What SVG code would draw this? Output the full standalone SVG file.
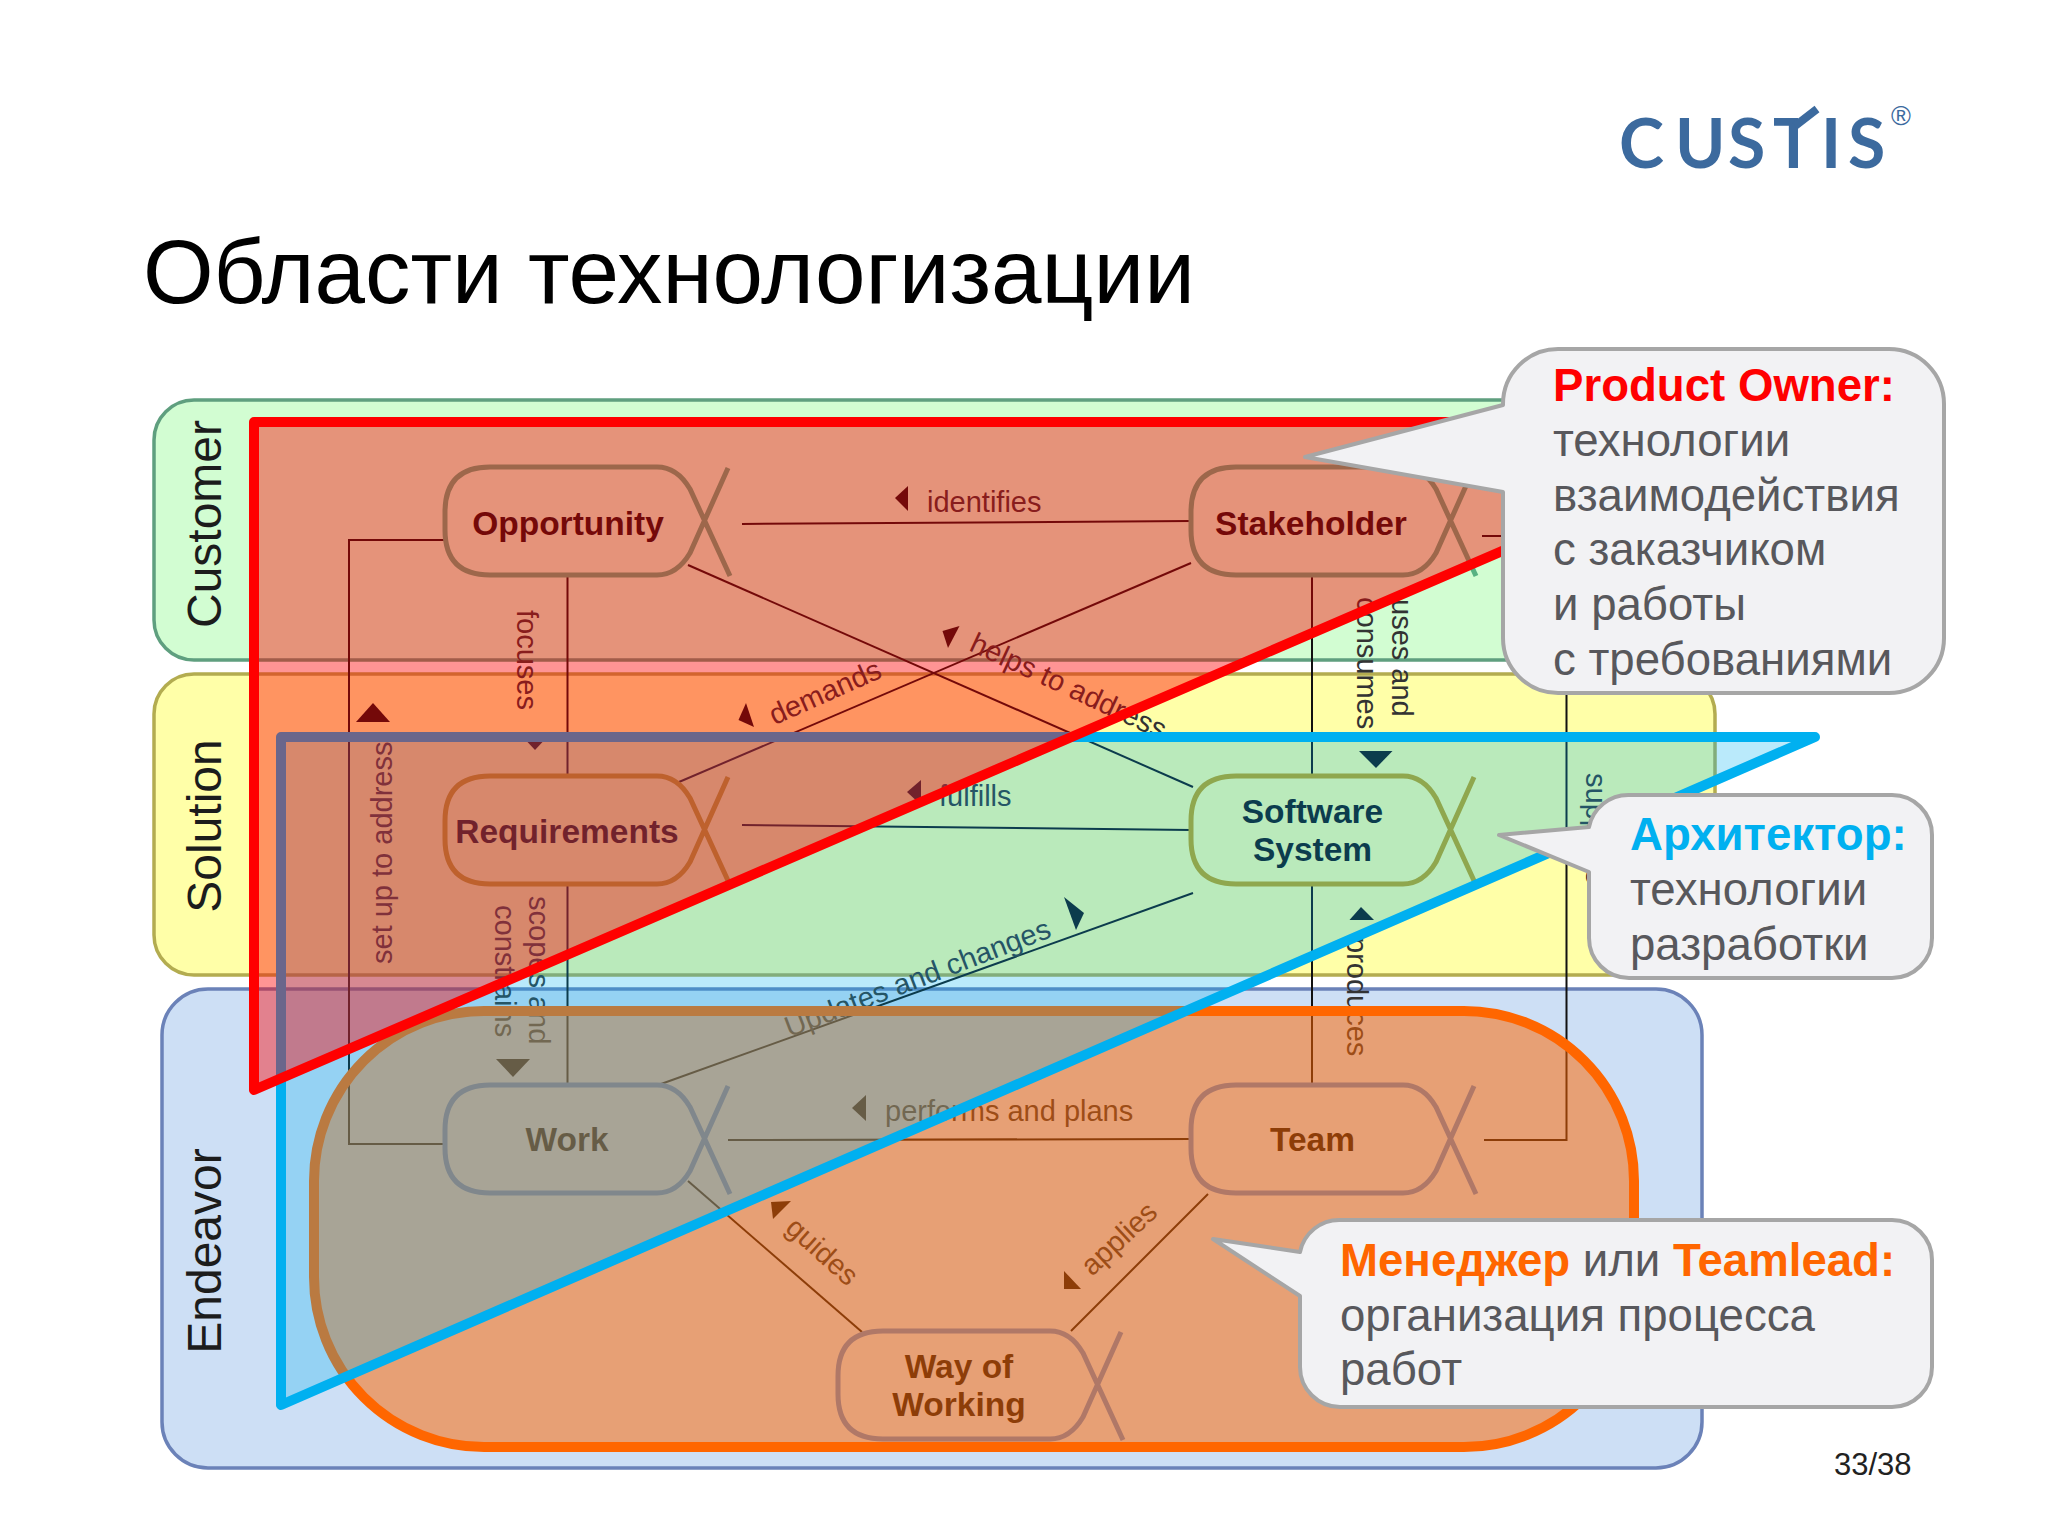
<svg xmlns="http://www.w3.org/2000/svg" xmlns:xlink="http://www.w3.org/1999/xlink" width="2048" height="1536" viewBox="0 0 2048 1536">
<style>
text{font-family:"Liberation Sans",Arial,sans-serif}
.pl{fill:#d2fdd2;stroke:#5f9f7f;stroke-width:3.5}
.panel-label{font-size:48px;fill:#1c1c1c}
.alpha{fill:none;stroke-width:5}
.c{stroke:#57b182}.s{stroke:#c4a413}.e{stroke:#5a8cd8}
.nt{font-size:33.5px;font-weight:bold;fill:#111;text-anchor:middle}
.ln{fill:none;stroke:#111;stroke-width:2}
.ah{fill:#111}
.lb{font-size:29px;fill:#333}
.co{fill:#f2f2f4;stroke:#a6a6a6;stroke-width:4;stroke-linejoin:round}
.ct{font-size:45.6px;fill:#58585c}
.b{font-weight:bold}
</style>
<defs>
<path id="alpha" d="M283,1 L245,86 Q232,108 212,108 L45,108 Q0,108 0,63 L0,45 Q0,0 45,0 L212,0 Q232,0 245,22 L285,109"/>
</defs>
<rect width="2048" height="1536" fill="#fff"/>
<g id="logo">
<text x="1619 1675 1728 1773 1821 1848" y="168" font-size="68" fill="#3c6a9e" style="font-family:Lato,'Liberation Sans',sans-serif;font-weight:700">CUSTIS</text>
<rect x="1798" y="112" width="22" height="18" fill="#fff"/>
<line x1="1795" y1="126" x2="1817" y2="109" stroke="#3c6a9e" stroke-width="8"/>
<text x="1901" y="125" font-size="27" fill="#3c6a9e" text-anchor="middle">®</text>
</g>
<text id="title" x="143" y="303" font-size="90.800" fill="#000">Области технологизации</text>
<g id="panels">
<g id="panel-customer"><rect class="pl" x="154" y="400" width="1560" height="260" rx="40"/><text class="panel-label" transform="translate(221,524) rotate(-90)" text-anchor="middle">Customer</text></g>
<g id="panel-solution"><rect class="pl" style="fill:#ffffa8;stroke:#b3ac50" x="154" y="674" width="1561" height="301" rx="40"/><text class="panel-label" transform="translate(221,826) rotate(-90)" text-anchor="middle">Solution</text></g>
<g id="panel-endeavor"><rect class="pl" style="fill:#cddff5;stroke:#6b82b8" x="162" y="989" width="1540" height="479" rx="46"/><text class="panel-label" transform="translate(221,1251) rotate(-90)" text-anchor="middle">Endeavor</text></g>
</g>
<g id="connectors">
<path class="ln" d="M445,540 H349 V1144 H445"/>
<path class="ln" d="M742,524 L1191,521"/>
<path class="ln" d="M688,565 L1193,787"/>
<path class="ln" d="M567.500,575 V775"/>
<path class="ln" d="M1191,563 L679,782"/>
<path class="ln" d="M1312,575 V775"/>
<path class="ln" d="M742,825 L1191,830"/>
<path class="ln" d="M567.500,884 V1085"/>
<path class="ln" d="M1312,884 V1085"/>
<path class="ln" d="M661,1084 L1193,893"/>
<path class="ln" d="M728,1140 L1192,1139"/>
<path class="ln" d="M688,1181 L862,1332"/>
<path class="ln" d="M1208,1194 L1071,1331"/>
<path class="ln" d="M1482,536 H1566.500 V1140 H1484"/>
<polygon class="ah" points="373,703 356,722 390,722"/>
<polygon class="ah" points="519,733 551,733 535,750"/>
<polygon class="ah" points="746,703 738.500,720 754,727"/>
<polygon class="ah" points="895,498 908,486 908,511"/>
<polygon class="ah" points="942.500,631 959.500,626 948,648"/>
<polygon class="ah" points="1359,751 1392.500,751 1376,768"/>
<polygon class="ah" points="907,792 921,780 921,805"/>
<polygon class="ah" points="1064,897 1084,913 1076,930"/>
<polygon class="ah" points="1361,907 1349.500,920 1374,920"/>
<polygon class="ah" points="496,1059 530,1059 513,1077"/>
<polygon class="ah" points="852,1108 866,1095 866,1121"/>
<polygon class="ah" points="771,1202 791,1201 773,1219"/>
<polygon class="ah" points="1064,1271 1081,1289 1064,1289"/>
<text class="lb" x="927" y="512">identifies</text>
<text class="lb" transform="translate(517,610) rotate(90)">focuses</text>
<text class="lb" transform="translate(392,964) rotate(-90)">set up to address</text>
<text class="lb" transform="translate(829,701) rotate(-24)" text-anchor="middle">demands</text>
<text class="lb" transform="translate(968,650) rotate(25)">helps to address</text>
<text class="lb" transform="translate(1392,599) rotate(90)">uses and</text>
<text class="lb" transform="translate(1357,597) rotate(90)">consumes</text>
<text class="lb" x="939" y="806">fulfills</text>
<text class="lb" transform="translate(921,987) rotate(-21)" text-anchor="middle">Updates and changes</text>
<text class="lb" transform="translate(529,896) rotate(90)">scopes and</text>
<text class="lb" transform="translate(495,905) rotate(90)">constrains</text>
<text class="lb" transform="translate(1347,937) rotate(90)">produces</text>
<text class="lb" x="885" y="1121">performs and plans</text>
<text class="lb" transform="translate(784,1230) rotate(42)">guides</text>
<text class="lb" transform="translate(1092,1277) rotate(-43)">applies</text>
<text class="lb" transform="translate(1586,773) rotate(90)">supports</text>
</g>
<g id="node-opportunity"><use href="#alpha" x="445" y="467" class="alpha c"/><text class="nt" x="568" y="535">Opportunity</text></g>
<g id="node-stakeholder"><use href="#alpha" x="1191" y="467" class="alpha c"/><text class="nt" x="1311" y="535">Stakeholder</text></g>
<g id="node-requirements"><use href="#alpha" x="445" y="776" class="alpha s"/><text class="nt" x="567" y="843">Requirements</text></g>
<g id="node-software-system"><use href="#alpha" x="1191" y="776" class="alpha s"/><text class="nt" x="1312.500" y="823">Software</text><text class="nt" x="1312.500" y="861">System</text></g>
<g id="node-work"><use href="#alpha" x="445" y="1085" class="alpha e"/><text class="nt" x="567" y="1151">Work</text></g>
<g id="node-team"><use href="#alpha" x="1191" y="1085" class="alpha e"/><text class="nt" x="1312.500" y="1151">Team</text></g>
<g id="node-way-of-working"><use href="#alpha" x="838" y="1331" class="alpha e"/><text class="nt" x="959" y="1378">Way of</text><text class="nt" x="959" y="1416">Working</text></g>
<g id="overlays">
<rect id="area-manager" x="314" y="1011" width="1320" height="436" rx="170" fill="#ff6600" fill-opacity=".52" stroke="#ff6600" stroke-width="10"/>
<polygon id="area-architect" points="281,737 1815,737 281,1405" fill="#00b0f0" fill-opacity=".27" stroke="#00b0f0" stroke-width="10" stroke-linejoin="round"/>
<polygon id="area-product-owner" points="254,422 1801,422 254,1090" fill="#ff0000" fill-opacity=".42" stroke="#ff0000" stroke-width="10" stroke-linejoin="round"/>
</g>
<g id="callout-product-owner">
<path class="co" d="M1558,349 H1889 A55,55 0 0 1 1944,404 V638 A55,55 0 0 1 1889,693 H1558 A55,55 0 0 1 1503,638 V492 L1305,457 L1503,405 V404 A55,55 0 0 1 1558,349 Z"/>
<text class="ct b" x="1553" y="401" style="fill:#ff0000">Product Owner:</text>
<text class="ct" x="1553" y="456">технологии</text>
<text class="ct" x="1553" y="511">взаимодействия</text>
<text class="ct" x="1553" y="565">с заказчиком</text>
<text class="ct" x="1553" y="620">и работы</text>
<text class="ct" x="1553" y="675">с требованиями</text>
</g>
<g id="callout-architect">
<path class="co" d="M1629,795 H1892 A40,40 0 0 1 1932,835 V938 A40,40 0 0 1 1892,978 H1629 A40,40 0 0 1 1589,938 V872 L1499,835 L1589,827 A40,40 0 0 1 1629,795 Z"/>
<text class="ct b" x="1630" y="850" style="fill:#00b0f0">Архитектор:</text>
<text class="ct" x="1630" y="905">технологии</text>
<text class="ct" x="1630" y="960">разработки</text>
</g>
<g id="callout-manager">
<path class="co" d="M1340,1220 H1892 A40,40 0 0 1 1932,1260 V1367 A40,40 0 0 1 1892,1407 H1340 A40,40 0 0 1 1300,1367 V1296 L1213,1239 L1300,1252 A40,40 0 0 1 1340,1220 Z"/>
<text class="ct" x="1340" y="1276"><tspan class="b" style="fill:#ff6600">Менеджер</tspan> или <tspan class="b" style="fill:#ff6600">Teamlead:</tspan></text>
<text class="ct" x="1340" y="1331">организация процесса</text>
<text class="ct" x="1340" y="1385">работ</text>
</g>
<text id="page-number" x="1834" y="1475" font-size="31" fill="#222">33/38</text>
</svg>
